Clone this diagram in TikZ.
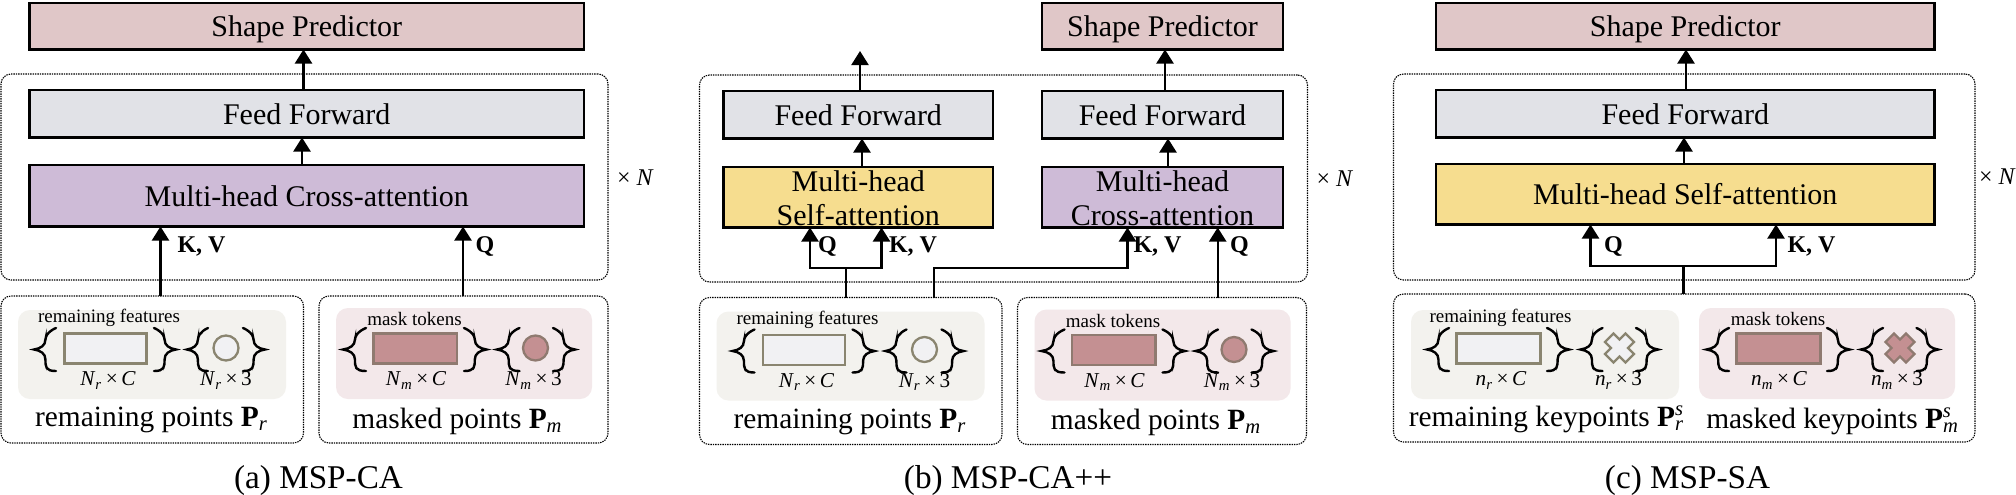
\documentclass[tikz,border=0pt]{standalone}
\usepackage{fontspec}
\setmainfont{Liberation Serif}
\usetikzlibrary{arrows.meta}
\definecolor{cshape}{HTML}{E0C7C8}
\definecolor{cff}{HTML}{E1E2E7}
\definecolor{cca}{HTML}{CEBBD7}
\definecolor{csa}{HTML}{F6DD8F}
\definecolor{ctintr}{HTML}{F3F2EE}
\definecolor{ctintm}{HTML}{F3E8EA}
\definecolor{cfillr}{HTML}{F1F1F3}
\definecolor{cfillm}{HTML}{C49092}
\definecolor{cedge}{HTML}{8A8570}
\definecolor{cedgem}{HTML}{8F7A70}
\tikzset{
  x=0.5pt,y=-0.5pt,
  blockbox/.style={draw=black,line width=1.1pt,font=\fontsize{15}{16.5}\selectfont,align=center},
  oneline/.style={text height=10.6pt,text depth=0pt},
  dotframe/.style={draw=black,line width=0.55pt,dash pattern=on 0.7pt off 0.5pt,rounded corners=5pt},
  tintbox/.style={rounded corners=6pt},
  tokshape/.style={line width=1.15pt},
  arr/.style={line width=1.1pt,-{Triangle[length=7pt,width=8.5pt]}},
  wire/.style={line width=1.1pt},
  brc/.style={line width=1.2pt,line cap=round},
  smalltxt/.style={inner sep=0pt,font=\fontsize{9.5}{10}\selectfont},
  dimn/.style={inner sep=0pt,font=\fontsize{10.6}{12}\selectfont},
  ptstxt/.style={inner sep=0pt,font=\fontsize{14.7}{16}\selectfont},
  kvtxt/.style={inner sep=0pt,font=\fontsize{12}{13}\selectfont\bfseries},
  timestxt/.style={inner sep=0pt,font=\fontsize{12}{13}\selectfont},
  captxt/.style={inner sep=0pt,font=\fontsize{16.6}{18}\selectfont},
}
\newcommand{\bx}[7]{%
  \pgfmathsetmacro\wa{(#4-#2)*0.5}\pgfmathsetmacro\ha{(#5-#3)*0.5}%
  \pgfmathsetmacro\cxa{(#2+#4)/2}\pgfmathsetmacro\cya{(#3+#5)/2}%
  \node[#6,minimum width=\wa pt,minimum height=\ha pt,inner sep=0pt,outer sep=0pt] (#1) at (\cxa,\cya) {#7};}
% brace: tip x, end x, top y, bottom y
\newcommand{\cbr}[4]{%
  \pgfmathsetmacro\xm{#1+(#2-#1)*0.52}\pgfmathsetmacro\xt{#1+(#2-#1)*0.30}\pgfmathsetmacro\ym{(#3+#4)/2}%
  \pgfmathsetmacro\ya{#3+12}\pgfmathsetmacro\yb{\ym-10}\pgfmathsetmacro\yc{\ym+10}\pgfmathsetmacro\yd{#4-12}%
  \draw[brc] (#2,#3) .. controls (\xm+3*#2/3-\xm*1,#3) and (\xm,#3+4) .. (\xm,\ya) -- (\xm,\yb)
    .. controls (\xm,\ym-4) and (\xt,\ym-1) .. (#1,\ym)
    .. controls (\xt,\ym+1) and (\xm,\ym+4) .. (\xm,\yc) -- (\xm,\yd)
    .. controls (\xm,#4-4) and (\xm,#4) .. (#2,#4);}
\newcommand{\crossmark}[4]{%
  \draw[tokshape,draw=#4,fill=#3,line join=miter,shift={(#1,#2)},rotate=45]
   (-6,-14.5)--(6,-14.5)--(6,-6)--(14.5,-6)--(14.5,6)--(6,6)--(6,14.5)--(-6,14.5)--(-6,6)--(-14.5,6)--(-14.5,-6)--(-6,-6)--cycle;}
\newcommand{\tsub}[1]{\textsubscript{\itshape #1}}
\newcommand{\Nr}{\textit{N}\tsub{r}}
\newcommand{\Nm}{\textit{N}\tsub{m}}
\newcommand{\nrr}{\textit{n}\tsub{r}}
\newcommand{\nmm}{\textit{n}\tsub{m}}
\newcommand{\tms}{\,×\,}
\newcommand{\topfix}{\rule{0pt}{11.5pt}}
% bottom groups of panels (a) and (b)
\newcommand{\ptgroups}[1]{%
  \bx{#1bl}{1}{296}{303.5}{443}{dotframe}{}
  \bx{#1br}{319}{296}{608}{443}{dotframe}{}
  \bx{#1tl}{18}{310}{286}{399}{tintbox,fill=ctintr}{}
  \bx{#1tr}{336}{308}{592}{399}{tintbox,fill=ctintm}{}
  \bx{#1rl}{64.5}{333.5}{146.5}{363.5}{tokshape,draw=cedge,fill=cfillr}{}
  \node[tokshape,circle,draw=cedge,fill=cfillr,minimum size=12.5pt,inner sep=0pt] (#1cl) at (226,348) {};
  \cbr{34}{56}{328}{371}\cbr{176}{154}{328}{371}\cbr{187}{208}{328}{371}\cbr{265}{243}{328}{371}
  \node[smalltxt] (#1ll) at (109,318) {remaining features};
  \node[dimn] (#1dl1) at (108,380.5) {\Nr\tms\textit{C}};
  \node[dimn] (#1dl2) at (226,380.5) {\Nr\tms 3};
  \node[ptstxt] (#1pl) at (151.5,420) {remaining points \textbf{P}\tsub{r}};
  \bx{#1rm}{373.5}{333.5}{457}{363.5}{tokshape,draw=cedgem,fill=cfillm}{}
  \node[tokshape,circle,draw=cedgem,fill=cfillm,minimum size=12.5pt,inner sep=0pt] (#1cm) at (535.5,348) {};
  \cbr{343}{366}{328}{371}\cbr{486.5}{464}{328}{371}\cbr{497}{519.5}{328}{371}\cbr{575}{553}{328}{371}
  \node[smalltxt] (#1lm) at (414.5,319) {mask tokens};
  \node[dimn] (#1dm1) at (416,380.5) {\Nm\tms\textit{C}};
  \node[dimn] (#1dm2) at (533.5,380.5) {\Nm\tms 3};
  \node[ptstxt] (#1pm) at (457.5,421) {masked points \textbf{P}\tsub{m}};
}
\begin{document}
\begin{tikzpicture}
\useasboundingbox[fill=white] (0,0) rectangle (2016,494);
%% ---------- panel a
\bx{aout}{1}{74}{608}{280}{dotframe}{}
\ptgroups{a}
\bx{ashape}{29.5}{3}{584}{49.5}{blockbox,oneline,fill=cshape}{Shape Predictor}
\bx{aff}{29.5}{90}{584}{137.5}{blockbox,oneline,fill=cff}{Feed Forward}
\bx{aca}{29.5}{165}{584}{226.5}{blockbox,oneline,fill=cca}{Multi-head Cross-attention}
\coordinate (a1) at (303.5,0); \coordinate (a2) at (302,0);
\draw[arr] (a1 |- aff.north) -- (a1 |- ashape.south);
\draw[arr] (a2 |- aca.north) -- (a2 |- aff.south);
\coordinate (a3) at (160.5,0); \coordinate (a4) at (463,0);
\draw[arr] (a3 |- abl.north) -- (a3 |- aca.south);
\draw[arr] (a4 |- abr.north) -- (a4 |- aca.south);
\node[kvtxt] (akv) at (201.5,246.5) {K, V};
\node[kvtxt] (aq) at (485,246.5) {Q};
\node[timestxt] (an) at (635.5,178) {× \textit{N}};
\node[captxt] (acap) at (318.5,480.5) {(a) MSP-CA};
%% ---------- panel b
\bx{bout}{699.5}{75}{1307.5}{282}{dotframe}{}
\begin{scope}[shift={(698.5,1.5)}]
\ptgroups{b}
\end{scope}
\bx{bshape}{1042}{3}{1283}{49.5}{blockbox,oneline,fill=cshape}{Shape Predictor}
\bx{bffa}{723.5}{91}{993}{138.5}{blockbox,oneline,fill=cff}{Feed Forward}
\bx{bffb}{1042}{91}{1283}{138.5}{blockbox,oneline,fill=cff}{Feed Forward}
\bx{bsa}{723.5}{167}{993}{227.5}{blockbox,fill=csa}{\topfix Multi-head\\[0.3pt]Self-attention}
\bx{bca}{1042}{167}{1283}{227.5}{blockbox,fill=cca}{\topfix Multi-head\\[0.3pt]Cross-attention}
\coordinate (b1) at (860,51);
\coordinate (b2) at (862,0);
\coordinate (b3) at (1165,0);
\coordinate (b4) at (1168,0);
\draw[arr] (b1 |- bffa.north) -- (b1);
\draw[arr] (b2 |- bsa.north) -- (b2 |- bffa.south);
\draw[arr] (b3 |- bffb.north) -- (b3 |- bshape.south);
\draw[arr] (b4 |- bca.north) -- (b4 |- bffb.south);
\coordinate (bs1) at (846,268);
\coordinate (bqa) at (810,268);
\coordinate (bka) at (881.5,268);
\draw[wire] (bs1 |- bbl.north) -- (bs1);
\draw[arr] (bs1) -| (bqa |- bsa.south);
\draw[arr] (bs1) -| (bka |- bsa.south);
\coordinate (bs2) at (933.7,268);
\coordinate (bkb) at (1127.5,268);
\draw[arr] (bs2 |- bbl.north) -- (bs2) -- (bkb) -- (bkb |- bca.south);
\coordinate (bqb) at (1217.7,0);
\draw[arr] (bqb |- bbr.north) -- (bqb |- bca.south);
\node[kvtxt] (bq1) at (827.5,246.5) {Q};
\node[kvtxt] (bkv1) at (913,246.5) {K, V};
\node[kvtxt] (bkv2) at (1157.5,246.5) {K, V};
\node[kvtxt] (bq2) at (1239.5,246.5) {Q};
\node[timestxt] (bn) at (1335,179) {× \textit{N}};
\node[captxt] (bcap) at (1008,480.5) {(b) MSP-CA++};
%% ---------- panel c
\bx{cout}{1393.5}{74}{1975}{280}{dotframe}{}
\bx{cbot}{1393.5}{294}{1975}{442}{dotframe}{}
\bx{ctl}{1411}{310}{1679}{399}{tintbox,fill=ctintr}{}
\bx{ctr}{1699}{308}{1955}{399}{tintbox,fill=ctintm}{}
\bx{crl}{1456.5}{333.5}{1540.5}{363.5}{tokshape,draw=cedge,fill=cfillr}{}
\crossmark{1619.5}{348}{cfillr}{cedge}
\cbr{1427}{1449}{328}{371}\cbr{1569}{1547}{328}{371}\cbr{1580.5}{1602.5}{328}{371}\cbr{1658}{1636}{328}{371}
\node[smalltxt] (cll) at (1500.5,318) {remaining features};
\node[dimn] (cdl1) at (1501,380.5) {\nrr\tms\textit{C}};
\node[dimn] (cdl2) at (1618.5,380.5) {\nrr\tms 3};
\node[ptstxt] (cpl) at (1546.5,419) {remaining keypoints \textbf{P}\textsubscript{\itshape r}\kern-0.3em\textsuperscript{\itshape s}};
\bx{crm}{1736.5}{333.5}{1820.5}{363.5}{tokshape,draw=cedgem,fill=cfillm}{}
\crossmark{1900}{348}{cfillm}{cedgem}
\cbr{1706.5}{1729}{328}{371}\cbr{1849.5}{1827}{328}{371}\cbr{1861}{1883}{328}{371}\cbr{1938}{1916.5}{328}{371}
\node[smalltxt] (clm) at (1778,319) {mask tokens};
\node[dimn] (cdm1) at (1779,380.5) {\nmm\tms\textit{C}};
\node[dimn] (cdm2) at (1897,380.5) {\nmm\tms 3};
\node[ptstxt] (cpm) at (1829,421) {masked keypoints \textbf{P}\textsubscript{\itshape m}\kern-0.55em\textsuperscript{\itshape s}};
\bx{cshapeb}{1436}{3}{1934.5}{49.5}{blockbox,oneline,fill=cshape}{Shape Predictor}
\bx{cffb}{1436}{90}{1934.5}{137.5}{blockbox,oneline,fill=cff}{Feed Forward}
\bx{csab}{1436}{164}{1934.5}{224.5}{blockbox,oneline,fill=csa}{Multi-head Self-attention}
\coordinate (c1) at (1686,0); \coordinate (c2) at (1684,0);
\draw[arr] (c1 |- cffb.north) -- (c1 |- cshapeb.south);
\draw[arr] (c2 |- csab.north) -- (c2 |- cffb.south);
\coordinate (cs) at (1683.4,266);
\coordinate (cqa) at (1590.5,266);
\coordinate (cka) at (1776,266);
\draw[wire] (cs |- cbot.north) -- (cs);
\draw[arr] (cs) -| (cqa |- csab.south);
\draw[arr] (cs) -| (cka |- csab.south);
\node[kvtxt] (cq) at (1613.5,246.5) {Q};
\node[kvtxt] (ckv) at (1811.5,246.5) {K, V};
\node[timestxt] (cn) at (1997.5,177) {× \textit{N}};
\node[captxt] (ccap) at (1687.5,480.5) {(c) MSP-SA};
\end{tikzpicture}
\end{document}
